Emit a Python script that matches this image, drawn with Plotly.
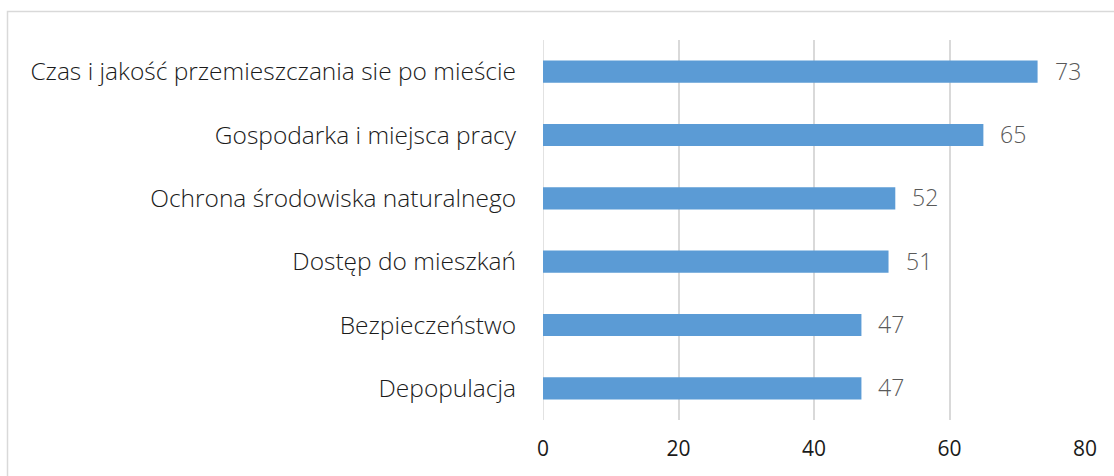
import plotly.graph_objects as go

categories = [
    "Czas i jakość przemieszczania sie po mieście",
    "Gospodarka i miejsca pracy",
    "Ochrona środowiska naturalnego",
    "Dostęp do mieszkań",
    "Bezpieczeństwo",
    "Depopulacja",
]
values = [73, 65, 52, 51, 47, 47]
x_ticks = [0, 20, 40, 60, 80]

W, H = 1114, 476
L, R, T, B = 543, 29, 40, 56
pw, ph = W - L - R, H - T - B

cats_rev = categories[::-1]
vals_rev = values[::-1]

fig = go.Figure()
fig.add_trace(go.Bar(
    y=cats_rev, x=vals_rev, orientation="h",
    marker=dict(color="#5b9bd5", line=dict(width=0)),
    width=0.35,
    hoverinfo="skip",
))

annotations = []
for c, v in zip(cats_rev, vals_rev):
    annotations.append(dict(
        x=v, y=c, xref="x", yref="y", text=str(v), showarrow=False,
        xanchor="left", yanchor="middle", xshift=15, yshift=1,
        font=dict(family="Open Sans", size=23, color="#595959", weight=300),
    ))

def px_to_paper_x(px):
    return (px - L) / pw

def px_to_paper_y(py):
    return (H - B - py) / ph

fx0 = px_to_paper_x(7.5)
fy_top = px_to_paper_y(11.5)
fy_bot = px_to_paper_y(H + 5)
fx_right = px_to_paper_x(W + 5)

shapes = [dict(
    type="path", xref="paper", yref="paper",
    path=f"M {fx0} {fy_bot} L {fx0} {fy_top} L {fx_right} {fy_top}",
    line=dict(color="#d9d9d9", width=1.5),
)]

fig.update_layout(
    width=W, height=H,
    margin=dict(l=L, r=R, t=T, b=B, autoexpand=False),
    paper_bgcolor="white", plot_bgcolor="white",
    showlegend=False,
    annotations=annotations,
    shapes=shapes,
    bargap=0.65,
    xaxis=dict(
        range=[0, 80], tickvals=x_ticks, ticktext=[str(t) for t in x_ticks],
        showgrid=True, gridcolor="#d9d9d9", gridwidth=1.5,
        zeroline=False, showline=False, automargin=False,
        tickfont=dict(family="Open Sans", size=21, color="#1a1a1a"),
        ticks="", ticklabelstandoff=14,
        fixedrange=True,
    ),
    yaxis=dict(
        categoryorder="array", categoryarray=cats_rev,
        showgrid=False, zeroline=False, showline=False, automargin=False,
        tickfont=dict(family="Open Sans", size=24.5, color="#1a1a1a", weight=300),
        ticks="", ticklabelstandoff=26,
        fixedrange=True,
    ),
)
fig.add_shape(type="line", xref="x", yref="paper", x0=0, x1=0, y0=0, y1=1,
              line=dict(color="#d9d9d9", width=1.5), layer="below")

fig.write_html("out.html", config={"displayModeBar": False},
               post_script="document.body.style.margin='0px';")
